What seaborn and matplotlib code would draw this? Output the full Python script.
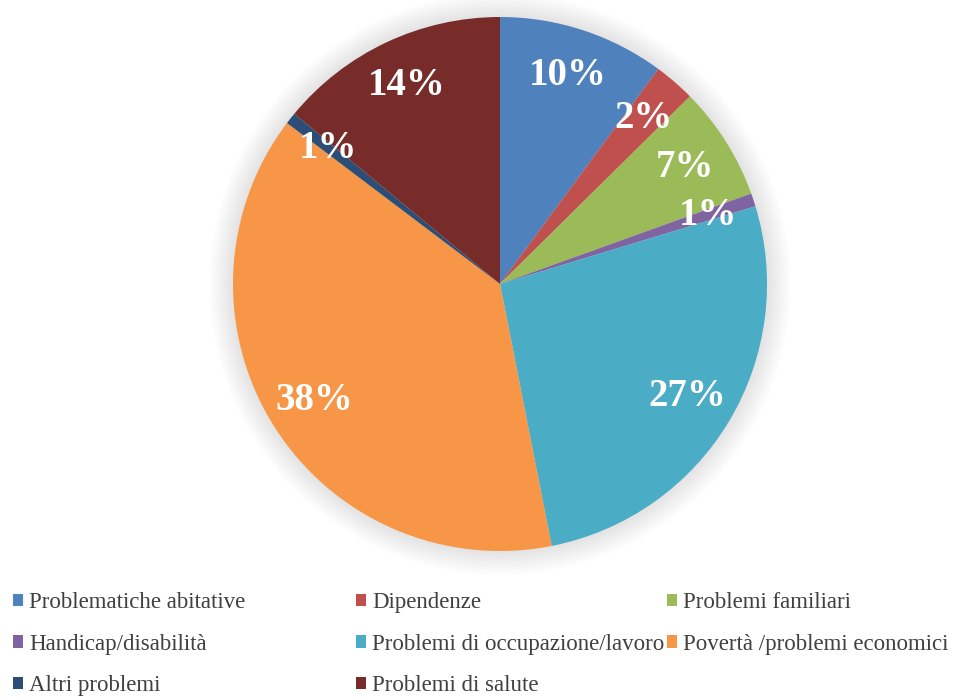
import numpy as np
import matplotlib
matplotlib.use("Agg")
import matplotlib.pyplot as plt
from matplotlib.patches import Circle, Patch
import seaborn as sns

categories = [
    "Problematiche abitative",
    "Dipendenze",
    "Problemi familiari",
    "Handicap/disabilità",
    "Problemi di occupazione/lavoro",
    "Povertà /problemi economici",
    "Altri problemi",
    "Problemi di salute",
]
shares = [10.1, 2.5, 6.9, 0.8, 26.6, 38.4, 0.7, 14.0]
pct_labels = ["10%", "2%", "7%", "1%", "27%", "38%", "1%", "14%"]
colors = ["#4F81BD", "#C0504D", "#9BBB59", "#8064A2",
          "#4BACC6", "#F79646", "#2C4D75", "#772C2A"]

sns.set_theme(style="white")
plt.rcParams["font.family"] = ["Liberation Serif", "DejaVu Serif"]

fig = plt.figure(figsize=(9.71, 7.0), dpi=100)
ax = fig.add_axes([233 / 971, 149 / 700, 534 / 971, 534 / 700])

# soft shadow around the pie
for i in range(14):
    r = 1.09 - i * 0.0065
    ax.add_patch(Circle((0, 0), r, color="#000000", alpha=0.008,
                        lw=0, zorder=0, clip_on=False))

wedges, _ = ax.pie(shares, colors=colors, startangle=90, counterclock=False,
                   radius=1.0, wedgeprops=dict(linewidth=0, zorder=2))

for w, lab in zip(wedges, pct_labels):
    ang = np.deg2rad((w.theta1 + w.theta2) / 2)
    ax.text(0.82 * np.cos(ang), 0.82 * np.sin(ang), lab, ha="center",
            va="center", color="white", fontsize=28, fontweight="bold", zorder=3)

ax.set_xlim(-1, 1)
ax.set_ylim(-1, 1)
ax.set_aspect("equal")
ax.axis("off")

# legend: three columns, filled row by row
col_x = [13 / 971, 356 / 971, 667 / 971]
for c in range(3):
    idx = list(range(c, len(categories), 3))
    handles = [Patch(facecolor=colors[i], edgecolor="none") for i in idx]
    fig.legend(handles, [categories[i] for i in idx], loc="upper left",
               bbox_to_anchor=(col_x[c], 1 - 592 / 700), frameon=False,
               fontsize=16.5, handlelength=0.45, handleheight=0.45,
               handletextpad=0.25, labelspacing=0.9, borderaxespad=0,
               borderpad=0, labelcolor="#404040")

fig.savefig("out.png", dpi=100, facecolor="white")
